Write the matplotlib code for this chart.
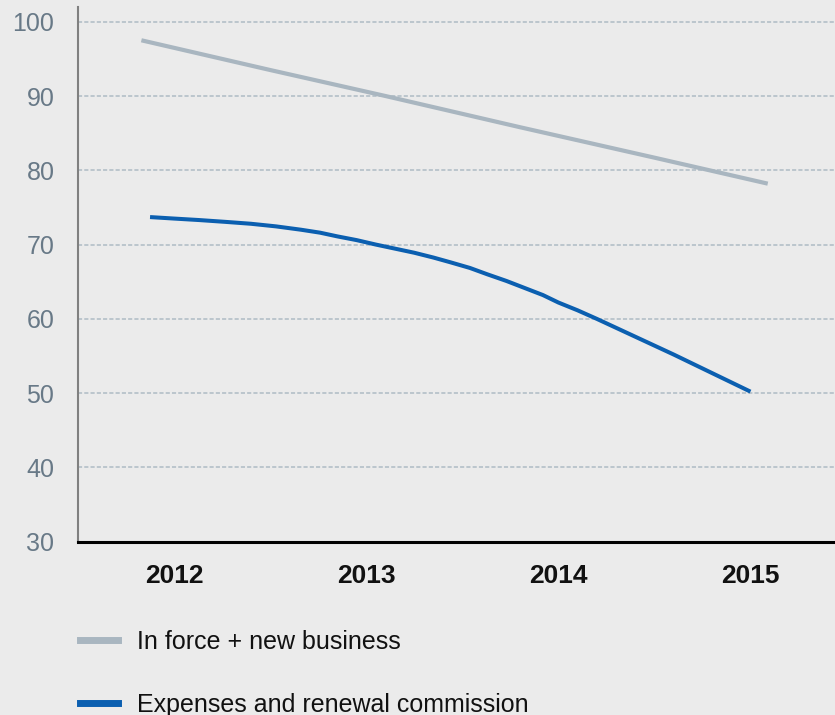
import matplotlib.pyplot as plt
from matplotlib.lines import Line2D

plt.rcParams['font.family'] = ['Liberation Sans', 'DejaVu Sans']

# data
years = [2012, 2013, 2014, 2015]
year_labels = ['2012', '2013', '2014', '2015']

inforce_x = [2011.83, 2012.5, 2013.1, 2013.8, 2014.5, 2015.09]
inforce_y = [97.5, 93.5, 90.0, 85.8, 81.7, 78.2]

expenses_x = [2011.875, 2012.0, 2012.13, 2012.27, 2012.4, 2012.53, 2012.66, 2012.76,
              2012.85, 2012.95, 2013.05, 2013.15, 2013.25, 2013.35, 2013.44, 2013.54,
              2013.63, 2013.73, 2013.83, 2013.92, 2014.0, 2014.1, 2014.2, 2014.3,
              2014.4, 2014.5, 2014.6, 2014.7, 2014.8, 2014.9, 2015.0]
expenses_y = [73.7, 73.5, 73.3, 73.05, 72.8, 72.45, 72.0, 71.6,
              71.1, 70.6, 70.0, 69.45, 68.9, 68.25, 67.6, 66.85,
              66.0, 65.1, 64.1, 63.2, 62.2, 61.15, 60.0, 58.8,
              57.6, 56.4, 55.2, 53.95, 52.7, 51.45, 50.2]

yticks = [30, 40, 50, 60, 70, 80, 90, 100]

bg = '#ebebeb'
grey = '#a9b6c0'
blue = '#0b5fb0'

fig = plt.figure(figsize=(8.35, 7.15), dpi=100, facecolor=bg)
ax = fig.add_axes([0.0934, 0.2424, 0.9066, 0.748])
ax.set_facecolor(bg)

ax.plot(inforce_x, inforce_y, color=grey, lw=3.0, solid_capstyle='butt')
ax.plot(expenses_x, expenses_y, color=blue, lw=2.9, solid_capstyle='butt')

ax.set_xlim(2011.5, 2015.44)
ax.set_ylim(30, 102)
ax.set_yticks(yticks)
ax.set_xticks(years)
ax.set_xticklabels(year_labels, fontsize=19, fontweight='bold', color='#111111')
ax.set_yticklabels([str(v) for v in yticks], fontsize=18, color='#687987')
ax.tick_params(axis='both', length=0)
ax.tick_params(axis='y', pad=17)
ax.tick_params(axis='x', pad=16)

ax.grid(axis='y', color='#aebbc4', lw=1.1, linestyle=(0, (2.7, 1.4)))
ax.set_axisbelow(True)

for s in ['top', 'right']:
    ax.spines[s].set_visible(False)
ax.spines['left'].set_color('#808080')
ax.spines['left'].set_linewidth(1.5)
ax.spines['bottom'].set_color('black')
ax.spines['bottom'].set_linewidth(2.2)

handles = [Line2D([], [], color=grey, lw=5), Line2D([], [], color=blue, lw=5)]
labels = ['In force + new business', 'Expenses and renewal commission']
fig.legend(handles, labels, loc='upper left', bbox_to_anchor=(0.096, 0.119),
           frameon=False, fontsize=18, handlelength=1.52, handletextpad=0.75,
           labelspacing=1.56, borderpad=0, borderaxespad=0, labelcolor='#111111')

fig.savefig('out.png', dpi=100, facecolor=bg)
